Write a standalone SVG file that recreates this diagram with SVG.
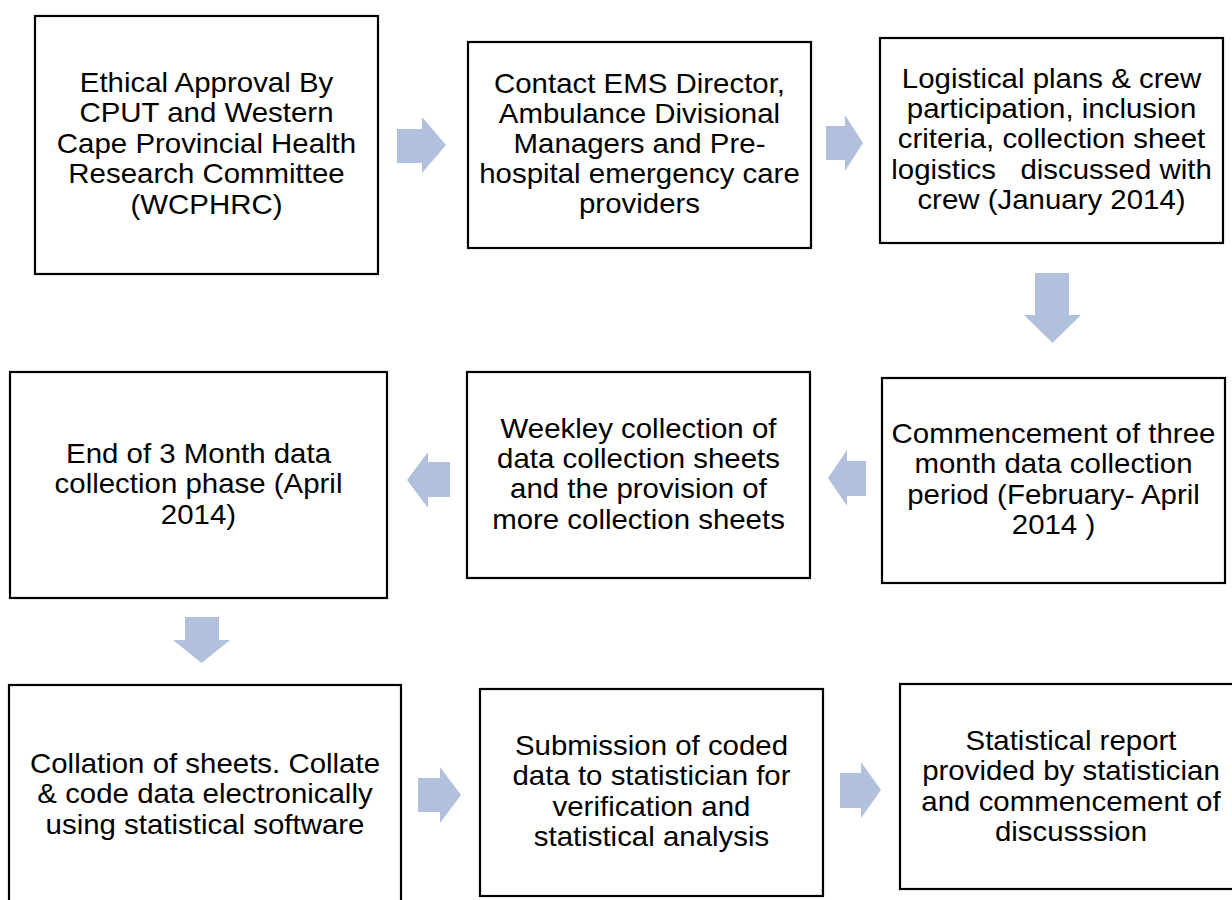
<svg xmlns="http://www.w3.org/2000/svg" width="1232" height="900" viewBox="0 0 1232 900">
<style>
.box{fill:#fff;stroke:#000;stroke-width:2.2}
.t{font-family:"Liberation Sans",Arial,sans-serif;font-size:27px;fill:#000;text-anchor:middle}
.arr{fill:#B1C1DD;stroke:none}
</style>
<rect width="1232" height="900" fill="#fff"/>
<g id="connectors">
<path class="arr" d="M397,129 H422 V117 L446,145 L422,173 V163 H397 Z"/>
<path class="arr" d="M826,126 H845 V115 L863,143 L845,171 V160 H826 Z"/>
<path class="arr" d="M1035,273 H1069 V315 H1081 L1052.5,343 L1024,315 H1035 Z"/>
<path class="arr" d="M866,461 H847 V450 L828,478 L847,506 V496 H866 Z"/>
<path class="arr" d="M450,462 H428 V452 L407,480 L428,508 V497 H450 Z"/>
<path class="arr" d="M185,617 H219 V640 H230 L201.5,663 L173,640 H185 Z"/>
<path class="arr" d="M418,778 H440 V767 L461,795 L440,823 V812 H418 Z"/>
<path class="arr" d="M840,773 H861 V762 L881,790 L861,818 V808 H840 Z"/>
</g>
<g id="n1">
<rect class="box" x="35" y="16" width="343" height="258"/>
<text class="t" transform="matrix(1.09 0 0 1 206.5 0)"><tspan x="0" y="92">Ethical Approval By</tspan><tspan x="0" y="122.5">CPUT and Western</tspan><tspan x="0" y="153">Cape Provincial Health</tspan><tspan x="0" y="183.5">Research Committee</tspan><tspan x="0" y="214">(WCPHRC)</tspan></text>
</g>
<g id="n2">
<rect class="box" x="468" y="42" width="343" height="206"/>
<text class="t" transform="matrix(1.09 0 0 1 639.5 0)"><tspan x="0" y="93">Contact EMS Director,</tspan><tspan x="0" y="123">Ambulance Divisional</tspan><tspan x="0" y="153">Managers and Pre-</tspan><tspan x="0" y="183">hospital emergency care</tspan><tspan x="0" y="213">providers</tspan></text>
</g>
<g id="n3">
<rect class="box" x="880" y="38" width="343" height="205"/>
<text class="t" transform="matrix(1.09 0 0 1 1051.5 0)" xml:space="preserve"><tspan x="0" y="88">Logistical plans &amp; crew</tspan><tspan x="0" y="118">participation, inclusion</tspan><tspan x="0" y="148">criteria, collection sheet</tspan><tspan x="0" y="179">logistics   discussed with</tspan><tspan x="0" y="209">crew (January 2014)</tspan></text>
</g>
<g id="n4">
<rect class="box" x="882" y="378" width="343" height="205"/>
<text class="t" transform="matrix(1.09 0 0 1 1053.5 0)"><tspan x="0" y="443">Commencement of three</tspan><tspan x="0" y="473.5">month data collection</tspan><tspan x="0" y="504">period (February- April</tspan><tspan x="0" y="534.5">2014 )</tspan></text>
</g>
<g id="n5">
<rect class="box" x="467" y="372" width="343" height="206"/>
<text class="t" transform="matrix(1.09 0 0 1 638.5 0)"><tspan x="0" y="438">Weekley collection of</tspan><tspan x="0" y="468">data collection sheets</tspan><tspan x="0" y="498.5">and the provision of</tspan><tspan x="0" y="529">more collection sheets</tspan></text>
</g>
<g id="n6">
<rect class="box" x="10" y="372" width="377" height="226"/>
<text class="t" transform="matrix(1.09 0 0 1 198.5 0)"><tspan x="0" y="463">End of 3 Month data</tspan><tspan x="0" y="493.5">collection phase (April</tspan><tspan x="0" y="524">2014)</tspan></text>
</g>
<g id="n7">
<rect class="box" x="9" y="685" width="392" height="230"/>
<text class="t" transform="matrix(1.09 0 0 1 205 0)"><tspan x="0" y="773">Collation of sheets. Collate</tspan><tspan x="0" y="803.5">&amp; code data electronically</tspan><tspan x="0" y="834">using statistical software</tspan></text>
</g>
<g id="n8">
<rect class="box" x="480" y="689" width="343" height="207"/>
<text class="t" transform="matrix(1.09 0 0 1 651.5 0)"><tspan x="0" y="755">Submission of coded</tspan><tspan x="0" y="785.5">data to statistician for</tspan><tspan x="0" y="816">verification and</tspan><tspan x="0" y="846.5">statistical analysis</tspan></text>
</g>
<g id="n9">
<rect class="box" x="900" y="684" width="342" height="205"/>
<text class="t" transform="matrix(1.09 0 0 1 1071 0)"><tspan x="0" y="750">Statistical report</tspan><tspan x="0" y="780.5">provided by statistician</tspan><tspan x="0" y="811">and commencement of</tspan><tspan x="0" y="841.5">discusssion</tspan></text>
</g>
</svg>
